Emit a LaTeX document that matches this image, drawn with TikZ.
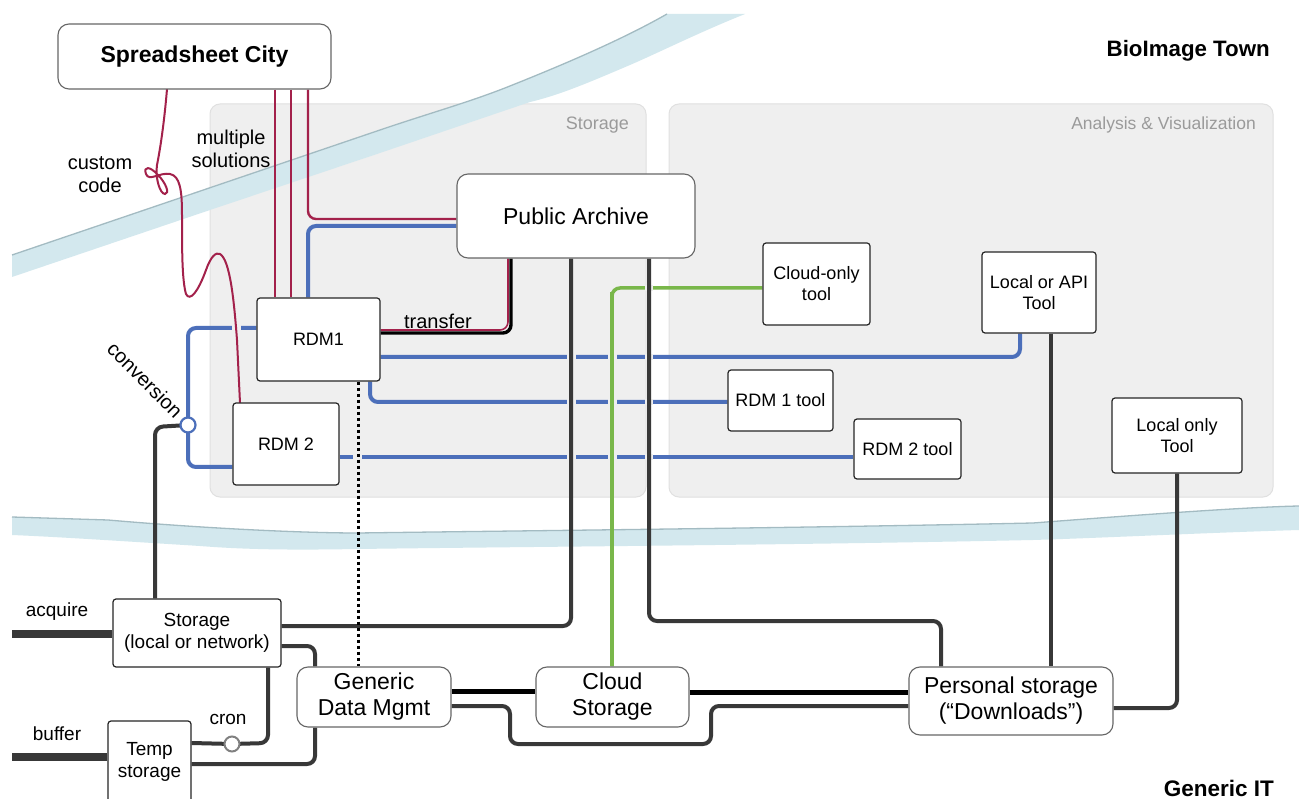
\documentclass[tikz,border=0pt]{standalone}
\usepackage{fontspec}
\setmainfont{Liberation Sans}
\definecolor{crim}{HTML}{A3214B}
\definecolor{blu}{HTML}{4C6FBA}
\definecolor{grn}{HTML}{79B74A}
\definecolor{blk}{HTML}{383838}
\definecolor{panel}{HTML}{EFEFEF}
\definecolor{panelb}{HTML}{E0E0E0}
\definecolor{river}{HTML}{D3E8EE}
\definecolor{riverb}{HTML}{A3BBC2}
\definecolor{glab}{HTML}{9A9A9A}
\newcommand{\fs}[2]{\fontsize{#1}{#2}\selectfont}
\pgfdeclarelayer{back}
\pgfdeclarelayer{lines}
\pgfsetlayers{back,lines,main}
\tikzset{
  sbox/.style={draw=black!85, line width=1.2pt, fill=white, rounded corners=3pt, inner sep=0pt, align=center, font=\fs{18}{21}},
  rbox/.style={draw=black!60, line width=1.1pt, fill=white, rounded corners=11pt, inner sep=0pt, align=center, font=\fs{23}{26}},
  bline/.style={blu, line width=4pt, rounded corners=8pt},
  kline/.style={blk, line width=4pt, rounded corners=8pt},
  cline/.style={crim, line width=2.4pt, rounded corners=8pt},
  gline/.style={grn, line width=3.5pt, rounded corners=8pt},
  lab/.style={font=\fs{20}{23}, align=center, inner sep=0pt},
  gap/.style={fill=panel},
}
\begin{document}
\begin{tikzpicture}[x=1pt,y=-1pt]
\useasboundingbox (0,0) rectangle (1299,799);
\clip (0,0) rectangle (1299,799);
% nodes
\path
  node[rbox, minimum width=273pt, minimum height=65pt, font=\bfseries\fs{23}{26}] (ss) at (194.5,56.5) {Spreadsheet City}
  node[rbox, minimum width=238pt, minimum height=84pt] (pa) at (576,216) {Public Archive}
  node[sbox, minimum width=123pt, minimum height=83pt] (rdma) at (318.5,339.5) {RDM1}
  node[sbox, minimum width=106pt, minimum height=82pt] (rdmb) at (286,444) {RDM 2}
  node[sbox, minimum width=107pt, minimum height=82pt] (cot) at (816.5,284) {Cloud-only\\tool}
  node[sbox, minimum width=114pt, minimum height=81pt] (lat) at (1039,292.5) {Local or API\\Tool}
  node[sbox, minimum width=105pt, minimum height=61pt] (rat) at (780.5,400.5) {RDM 1 tool}
  node[sbox, minimum width=107pt, minimum height=60pt] (rbt) at (907.5,449) {RDM 2 tool}
  node[sbox, minimum width=130pt, minimum height=75pt] (lot) at (1177,435.5) {Local only\\Tool}
  node[sbox, minimum width=168pt, minimum height=68pt, font=\fs{19}{22}] (sto) at (197,633) {Storage\\(local or network)}
  node[sbox, minimum width=83pt, minimum height=82pt, font=\fs{19}{22}] (tmp) at (149.5,762) {Temp\\storage}
  node[rbox, minimum width=154pt, minimum height=60pt] (gdm) at (374,697) {Generic\\Data Mgmt}
  node[rbox, minimum width=153pt, minimum height=60pt] (cs) at (612.5,697) {Cloud\\Storage}
  node[rbox, minimum width=204pt, minimum height=68pt] (ps) at (1011,701) {Personal storage\\(“Downloads”)};
% labels
\node[anchor=east, text=glab, font=\fs{18}{20}, inner sep=0pt] (stlab) at (629,125) {Storage};
\node[anchor=east, text=glab, font=\fs{17.5}{20}, inner sep=0pt] (avlab) at (1256,125) {Analysis \& Visualization};
\node[lab] (ms) at (231,149) {multiple\\solutions};
\node[lab] (cc) at (100,175) {custom\\code};
\node[lab] (tr) at (438,321) {transfer};
\node[lab, rotate=-45] (cv) at (145,380) {conversion};
\node[lab, font=\fs{19}{22}] (aq) at (57,612) {acquire};
\node[lab, font=\fs{19}{22}] (bf) at (57,734) {buffer};
\node[lab, font=\fs{19}{22}] (cr) at (228,719) {cron};
\node[anchor=east, inner sep=0pt, font=\bfseries\fs{22.3}{25}] (bt) at (1270,51) {BioImage Town};
\node[anchor=east, inner sep=0pt, font=\bfseries\fs{22.5}{25}] (git) at (1274,788) {Generic IT};
\coordinate (convc) at (188,425);
\coordinate (cronc) at (232,744);
\begin{pgfonlayer}{back}
\fill[white] (0,0) rectangle (1299,799);
\draw[panelb, fill=panel, line width=1pt, rounded corners=10pt] (210,104) rectangle (646,497);
\draw[panelb, fill=panel, line width=1pt, rounded corners=10pt] (669,104) rectangle (1273,497);
\fill[river] (12,255) -- (380,130) .. controls (430,113) and (470,102) .. (510,86) .. controls (570,62) and (625,38) .. (667,14)
  -- (745,14) .. controls (700,32) and (660,52) .. (630,65) .. controls (590,82) and (560,95) .. (530,102) -- (380,153) -- (210,210) -- (12,277) -- cycle;
\draw[riverb, line width=1.3pt] (12,255) -- (380,130) .. controls (430,113) and (470,102) .. (510,86) .. controls (570,62) and (625,38) .. (667,14);
\fill[river] (12,517) -- (108,520) .. controls (200,528) and (300,533) .. (358,533) .. controls (500,531) and (800,528) .. (1033,523) .. controls (1150,514) and (1250,507) .. (1299,506)
  -- (1299,530) .. controls (1200,533) and (1100,538) .. (1033,540) .. controls (800,545) and (500,547) .. (358,549) .. controls (300,550) and (250,550) .. (200,546) .. controls (120,541) and (60,537) .. (12,535) -- cycle;
\draw[riverb, line width=1.3pt] (12,517) -- (108,520) .. controls (200,528) and (300,533) .. (358,533) .. controls (500,531) and (800,528) .. (1033,523) .. controls (1150,514) and (1250,507) .. (1299,506);
\end{pgfonlayer}
\begin{pgfonlayer}{lines}
% blue lines
\draw[bline] (rdma.east |- 0,357) -- (1020,357) -- (1020,0 |- lat.south);
\draw[bline] (370,0 |- rdma.south) -- (370,402) -- (rat.west |- 0,402);
\draw[bline] (rdma.west |- 0,328) -- (188,328) -- (188,467) -- (rdmb.west |- 0,467);
\draw[bline] (rdmb.east |- 0,457) -- (rbt.west |- 0,457);
\draw[bline] (308,0 |- rdma.north) -- (308,226) -- (pa.west |- 0,226);
% crimson
\draw[cline] (275,0 |- ss.south) -- (275,0 |- rdma.north);
\draw[cline] (291,0 |- ss.south) -- (291,0 |- rdma.north);
\draw[cline] (308,0 |- ss.south) -- (308,219) -- (pa.west |- 0,219);
% green
\draw[gline] (cot.west |- 0,288) -- (612,288) -- (612,0 |- cs.north);
% gaps at crossings
\foreach \yy in {357,402,457}{
  \fill[gap] (566.5,\yy-3) rectangle (575.5,\yy+3);
  \fill[gap] (607.5,\yy-3) rectangle (617,\yy+3);
  \fill[gap] (644.5,\yy-3) rectangle (652.5,\yy+3);
}
\fill[gap] (644.5,285) rectangle (652.5,291);
\fill[gap] (231.5,325) rectangle (240.5,331);
\fill[gap] (353,454) rectangle (362,460);
\fill[white] (353,623) rectangle (362,629);
% transfer
\draw[kline, line width=3.4pt, black] (rdma.east |- 0,333) -- (511,333) -- (511,0 |- pa.south);
\draw[cline, line width=1.6pt] (rdma.east |- 0,330) -- (508,330) -- (508,0 |- pa.south);
% black lines
\draw[kline] (571,0 |- pa.south) -- (571,626) -- (sto.east |- 0,626);
\draw[kline] (649,0 |- pa.south) -- (649,621) -- (941,621) -- (941,0 |- ps.north);
\draw[kline] (1051,0 |- lat.south) -- (1051,0 |- ps.north);
\draw[kline] (1177,0 |- lot.south) -- (1177,708) -- (ps.east |- 0,708);
\draw[kline] (convc) -- (155,427) -- (155,0 |- sto.north);
\draw[grn, line width=3.5pt] (612,292) -- (612,0 |- cs.north);
\draw[black, line width=3pt, dash pattern=on 3pt off 3pt] (358,0 |- rdma.south) -- (358,0 |- gdm.north);
\draw[blk, line width=8pt] (12,634) -- (sto.west |- 0,634);
\draw[blk, line width=8pt] (12,757) -- (tmp.west |- 0,757);
\draw[kline] (sto.east |- 0,646) -- (315,646) -- (315,0 |- gdm.north);
\draw[kline] (268,0 |- sto.south) -- (268,743) -- (cronc) -- (tmp.east |- 0,743);
\draw[kline] (tmp.east |- 0,764) -- (315,764) -- (315,0 |- gdm.south);
\draw[black, line width=5pt] (gdm.east |- 0,691) -- (cs.west |- 0,691);
\draw[black, line width=5pt] (cs.east |- 0,692) -- (ps.west |- 0,692);
\draw[kline] (gdm.east |- 0,706) -- (510,706) -- (510,744) -- (711,744) -- (711,706) -- (ps.west |- 0,706);
% custom code squiggle
\draw[crim, line width=2pt] (167,89) .. controls (164,125) and (160,150) .. (157,165)
  .. controls (155,178) and (160,194) .. (165,194)
  .. controls (170,194) and (166,183) .. (158,175)
  .. controls (150,166) and (143,166) .. (146,174)
  .. controls (149,182) and (160,172) .. (170,174)
  .. controls (180,176) and (182,190) .. (182,215)
  .. controls (182,250) and (182,280) .. (186,294)
  .. controls (190,302) and (198,292) .. (206,270)
  .. controls (211,256) and (216,252) .. (220,254)
  .. controls (230,260) and (234,300) .. (237,340)
  -- (240,403);
% circles
\draw[blu, line width=2.2pt, fill=white] (convc) circle (7.5);
\draw[black!50, line width=2pt, fill=white] (cronc) circle (7.5);
\end{pgfonlayer}
\end{tikzpicture}
\end{document}
